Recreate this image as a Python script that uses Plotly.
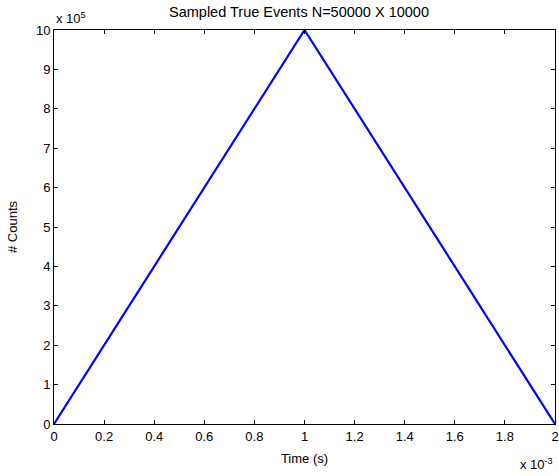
import plotly.graph_objects as go

time_s = [0.0, 0.001, 0.002]
counts = [0.0, 1.0e6, 0.0]
x_ticks = [i * 0.0002 for i in range(11)]
x_ticklabels = ["0", "0.2", "0.4", "0.6", "0.8", "1", "1.2", "1.4", "1.6", "1.8", "2"]
y_ticks = [i * 1e5 for i in range(11)]
y_ticklabels = [str(i) for i in range(11)]

font = dict(family="Liberation Sans, Arial, sans-serif", size=13, color="black")

fig = go.Figure()
fig.add_trace(go.Scatter(x=time_s, y=counts, mode="lines",
                         line=dict(color="#0000ff", width=2.2), showlegend=False))

fig.update_layout(
    width=559, height=476,
    margin=dict(l=54, r=4, t=30, b=52, autoexpand=False),
    paper_bgcolor="white", plot_bgcolor="white",
    font=font,
    title=dict(text="Sampled True Events N=50000 X 10000", x=299 / 559, xanchor="center",
               y=1 - 12 / 476, yanchor="middle", font=dict(size=14.5, color="black")),
)
fig.update_xaxes(range=[0, 0.002], tickvals=x_ticks, ticktext=x_ticklabels,
                 ticks="inside", ticklen=4, tickcolor="black", showline=True,
                 linecolor="black", linewidth=1, mirror="ticks", showgrid=False,
                 zeroline=False, ticklabeloverflow="allow", automargin=False,
                 title=dict(text="Time (s)", standoff=11, font=font))
fig.update_yaxes(range=[0, 1e6], tickvals=y_ticks, ticktext=y_ticklabels,
                 ticks="inside", ticklen=4, tickcolor="black", showline=True,
                 linecolor="black", linewidth=1, mirror="ticks", showgrid=False,
                 zeroline=False, automargin=False,
                 title=dict(text="# Counts", standoff=15, font=font))

fig.add_annotation(text="x 10<sup>5</sup>", xref="paper", yref="paper", x=0, y=1,
                   xanchor="left", yanchor="bottom", yshift=2, showarrow=False, font=font)
fig.add_annotation(text="x 10<sup>-3</sup>", xref="paper", yref="paper", x=1, y=0,
                   xanchor="right", yanchor="top", yshift=-30, xshift=0, showarrow=False, font=font)

fig.write_html("out.html")
